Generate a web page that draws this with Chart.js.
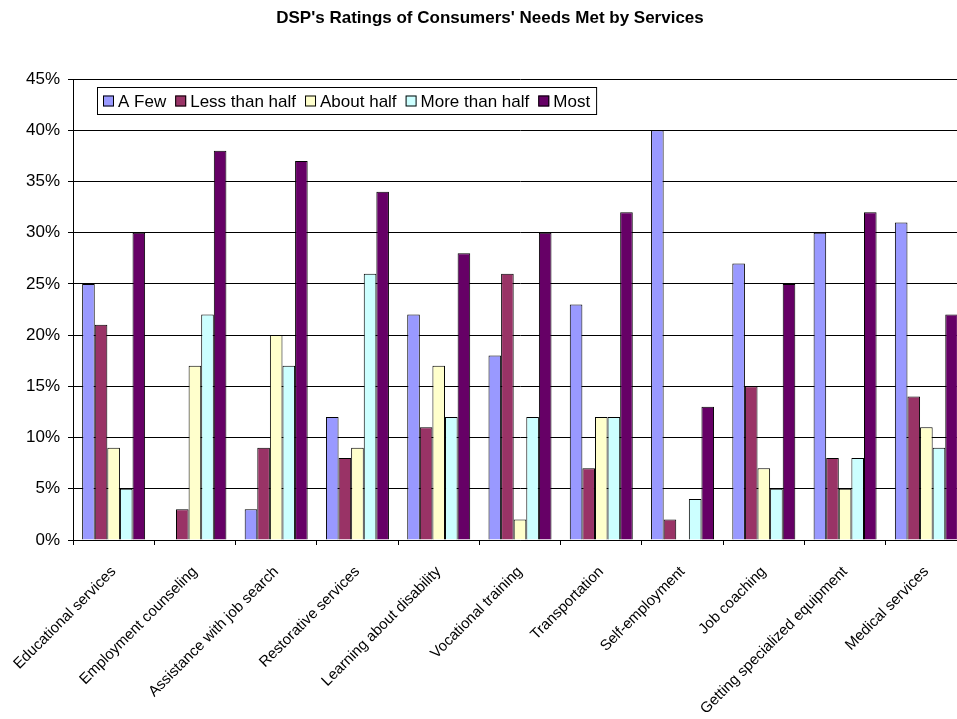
<!DOCTYPE html>
<html>
<head>
<meta charset="utf-8">
<script src="https://cdn.jsdelivr.net/npm/chart.js@4"></script>
<style>
  html, body { margin: 0; padding: 0; background: #fff; overflow: hidden; }
  #wrap { width: 980px; height: 719px; }
</style>
</head>
<body>
<div id="wrap"><canvas id="chart"></canvas></div>
<script>
const services = [
  "Educational services", "Employment counseling", "Assistance with job search",
  "Restorative services", "Learning about disability", "Vocational training",
  "Transportation", "Self-employment", "Job coaching",
  "Getting specialized equipment", "Medical services"
];
const seriesNames = ["A Few", "Less than half", "About half", "More than half", "Most"];
const seriesColors = ["#9999FF", "#993366", "#FFFFCC", "#CCFFFF", "#660066"];

const aFew         = [25, 0, 3, 12, 22, 18, 23, 40, 27, 30, 31];
const lessThanHalf = [21, 3, 9, 8, 11, 26, 7, 2, 15, 8, 14];
const aboutHalf    = [9, 17, 20, 9, 17, 2, 12, 0, 7, 5, 11];
const moreThanHalf = [5, 22, 17, 26, 12, 12, 12, 4, 5, 8, 9];
const most         = [30, 38, 37, 34, 28, 30, 32, 13, 25, 32, 22];

const seriesValues = [aFew, lessThanHalf, aboutHalf, moreThanHalf, most];
const chartTitle = "DSP's Ratings of Consumers' Needs Met by Services";

const FONT = "'Liberation Sans', Arial, sans-serif";

// title centred on the full canvas width, legend box inside the plot area
const decorations = {
  id: "decorations",
  afterDraw(chart) {
    const ctx = chart.ctx;
    ctx.save();
    ctx.fillStyle = "#000";
    ctx.font = "bold 17px " + FONT;
    ctx.textAlign = "center";
    ctx.textBaseline = "middle";
    ctx.fillText(chartTitle, chart.width / 2, 18);

    const x0 = 97, y0 = 87, h = 27, sq = 11, gap = 9;
    ctx.textAlign = "left";
    ctx.font = "17px " + FONT;
    const n = chart.data.datasets.length;
    let w = 6;
    chart.data.datasets.forEach((ds, i) => {
      w += sq + 4 + ctx.measureText(ds.label).width + (i < n - 1 ? gap : 6);
    });
    ctx.fillStyle = "#fff";
    ctx.fillRect(x0, y0, w, h);
    ctx.strokeStyle = "#000";
    ctx.lineWidth = 1;
    ctx.strokeRect(x0 + 0.5, y0 + 0.5, w, h);
    let x = x0 + 6;
    const cy = y0 + h / 2 + 0.5;
    chart.data.datasets.forEach(ds => {
      ctx.fillStyle = ds.backgroundColor;
      ctx.fillRect(x, cy - sq / 2, sq, sq);
      ctx.strokeRect(x + 0.5, cy - sq / 2 + 0.5, sq - 1, sq - 1);
      x += sq + 4;
      ctx.fillStyle = "#000";
      ctx.fillText(ds.label, x, cy + 1);
      x += ctx.measureText(ds.label).width + gap;
    });
    ctx.restore();
  }
};

new Chart(document.getElementById("chart"), {
  type: "bar",
  data: {
    labels: services,
    datasets: seriesNames.map((name, i) => ({
      label: name,
      data: seriesValues[i],
      backgroundColor: seriesColors[i],
      borderColor: "#000",
      borderWidth: 1,
      categoryPercentage: 0.775,
      barPercentage: 1
    }))
  },
  options: {
    responsive: true,
    maintainAspectRatio: false,
    animation: false,
    layout: { padding: { left: 0, right: 13, top: 79, bottom: 0 } },
    plugins: {
      legend: { display: false },
      tooltip: { enabled: false },
      title: { display: false }
    },
    scales: {
      x: {
        grid: { offset: true, drawOnChartArea: false, drawTicks: true, tickLength: 5, color: "#000" },
        border: { color: "#000" },
        ticks: {
          color: "#000",
          font: { family: FONT, size: 15 },
          minRotation: 45,
          maxRotation: 45,
          padding: 18,
          autoSkip: false
        },
        afterFit(scale) {
          scale.height = 179;
          scale.paddingLeft = 0;
          scale.paddingRight = 0;
        }
      },
      y: {
        min: 0,
        max: 45,
        grid: { color: "#000", tickLength: 5 },
        border: { color: "#000" },
        ticks: {
          stepSize: 5,
          color: "#000",
          padding: 8,
          font: { family: FONT, size: 17 },
          callback: v => v + "%"
        },
        afterFit(scale) {
          scale.width = 73;
          scale.paddingTop = 0;
          scale.paddingBottom = 0;
        }
      }
    }
  },
  plugins: [decorations]
});
</script>
</body>
</html>
